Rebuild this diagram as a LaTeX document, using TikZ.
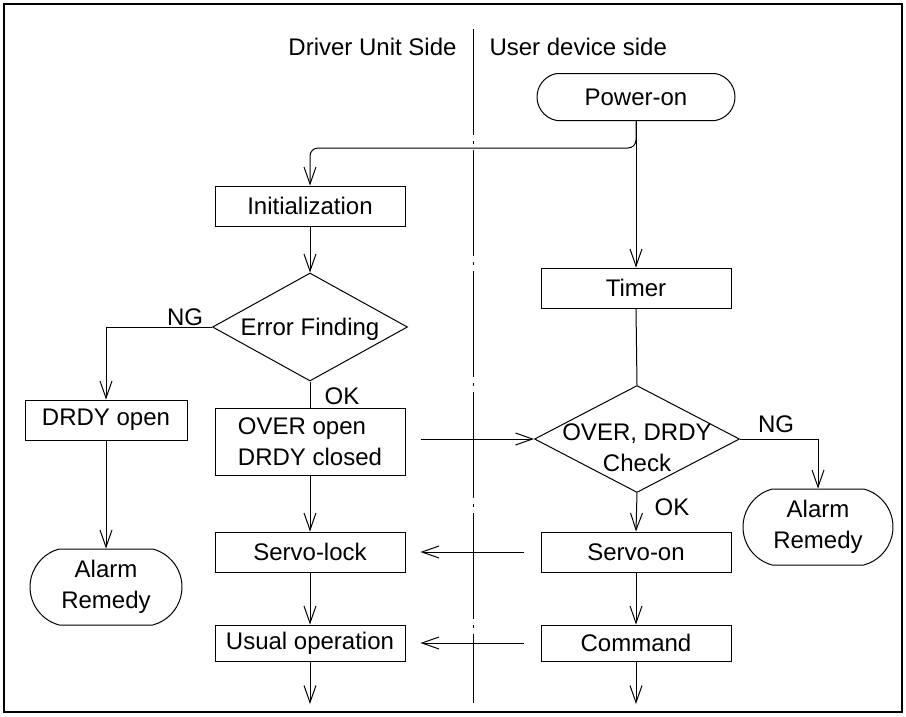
\documentclass[tikz,border=0pt]{standalone}
\usepackage{fontspec}
\setmainfont{Liberation Sans}
\usetikzlibrary{arrows.meta, shapes.geometric, shapes.misc}

\begin{document}
\begin{tikzpicture}[x=1pt, y=-1pt, line width=1pt,
  font=\fontsize{24}{31}\selectfont,
  box/.style={draw, rectangle, minimum width=190pt, minimum height=40pt, inner sep=0pt},
  term/.style={draw, rounded rectangle, rounded rectangle arc length=150, minimum width=152pt, minimum height=76pt, inner sep=0pt, align=center},
  dia/.style={draw, diamond, minimum height=108pt, inner sep=0pt},
  arr/.style={-{Straight Barb[length=17pt, width=12pt]}},
  lbl/.style={inner sep=0pt}]
  \useasboundingbox (0,0) rectangle (906,716);

  % Frame and side divider
  \draw[line width=2pt] (4,4) rectangle (902,712);
  \coordinate (divtop) at (473,29);
  \coordinate (divbot) at (473,703);
  \draw[dash pattern=on 106pt off 6pt on 3pt off 6pt] (divtop) -- (divbot);
  \node[lbl, anchor=east] (driverside) at (457,47) {Driver Unit Side};
  \node[lbl, anchor=west] (userside) at (489,47) {User device side};

  % User device side
  \node[term, rounded rectangle arc length=160, minimum width=198pt, minimum height=47pt] (power) at (636,97) {Power-on};
  \node[box] (timer) at (636,288) {Timer};
  \node[dia, minimum width=205pt, minimum height=107pt] (check) at (637,439) {};
  \node[lbl, align=center] (checktext) at (637,448) {OVER, DRDY\\Check};
  \node[term, minimum width=150pt] (alarmR) at (818,527) {Alarm\\Remedy};
  \node[box] (servoon) at (636,552) {Servo-on};
  \node[box, minimum height=36pt] (command) at (636,643) {Command};

  % Driver unit side
  \node[box] (init) at (310,206) {Initialization};
  \node[dia, minimum width=195pt] (errfind) at (310,327) {};
  \node[lbl] (errtext) at (310,329) {Error Finding};
  \node[box, minimum width=162pt] (drdy) at (106,420) {DRDY open};
  \node[term] (alarmL) at (106,587) {Alarm\\Remedy};
  \node[box, minimum height=67pt, align=left] (over) at (310,442) {OVER open\\DRDY closed};
  \node[box] (servolock) at (310,552) {Servo-lock};
  \node[box, minimum height=36pt] (usual) at (310,643) {Usual operation};

  % Connectors
  \coordinate (split) at (636,148);
  \draw[arr] (power.south) -- (timer.north);
  \draw[arr, rounded corners=8pt] (power.south) -- (split) -| (init.north);
  \draw[arr] (init.south) -- (errfind.north);
  \draw[arr] (errfind.west) -| (drdy.north);
  \draw[arr] (drdy.south) -- (alarmL.north);
  \draw (errfind.south) -- (over.north);
  \draw[arr] (over.south) -- (servolock.north);
  \draw[arr] (servolock.south) -- (usual.north);
  \draw (timer.south) -- (check.north);
  \draw[arr] ([xshift=15pt]over.east |- check.west) -- (check.west);
  \draw[arr] (check.east) -| (alarmR.north);
  \draw[arr] (check.south) -- (servoon.north);
  \draw[arr] (servoon.south) -- (command.north);
  \draw[arr] ([xshift=-17pt]servoon.west) -- ([xshift=15pt]servolock.east);
  \draw[arr] ([xshift=-17pt]command.west) -- ([xshift=15pt]usual.east);
  \coordinate (endL) at (310,704);
  \coordinate (endR) at (636,704);
  \draw[arr] (usual.south) -- (endL);
  \draw[arr] (command.south) -- (endR);

  % Branch labels
  \node[lbl] (ngL) at (185,317) {NG};
  \node[lbl] (okL) at (342,396) {OK};
  \node[lbl] (ngR) at (776,424) {NG};
  \node[lbl] (okR) at (672,507) {OK};
\end{tikzpicture}
\end{document}
